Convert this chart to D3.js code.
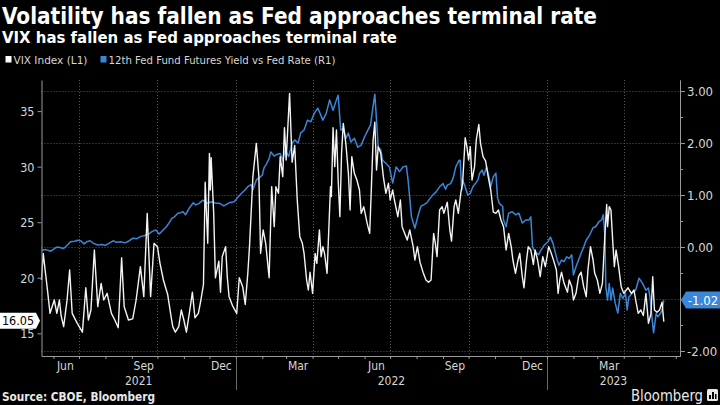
<!DOCTYPE html>
<html><head><meta charset="utf-8">
<script src="https://cdn.jsdelivr.net/npm/d3@7"></script>
<style>
html,body{margin:0;padding:0;background:#000;}
svg{display:block;}
</style></head><body>
<svg id="c" width="720" height="405"></svg>
<script>
const title = "Volatility has fallen as Fed approaches terminal rate";
const subtitle = "VIX has fallen as Fed approaches terminal rate";
const seriesNames = ["VIX Index (L1)", "12th Fed Fund Futures Yield vs Fed Rate (R1)"];
const sourceText = "Source: CBOE, Bloomberg";
const brand = "Bloomberg";
const leftTicks = [15, 20, 25, 30, 35];
const rightTicks = [-2, -1, 0, 1, 2, 3];
const rightMinor = [-1.5, -0.5, 0.5, 1.5, 2.5];
const dateDomain = ["2021-05-18", "2023-06-06"];

const vixDates = ["2021-05-18","2021-05-20","2021-05-25","2021-05-28","2021-06-02","2021-06-05","2021-06-08","2021-06-10","2021-06-13","2021-06-17","2021-06-20","2021-06-23","2021-06-29","2021-07-05","2021-07-09","2021-07-12","2021-07-15","2021-07-19","2021-07-23","2021-07-27","2021-07-30","2021-08-03","2021-08-08","2021-08-12","2021-08-16","2021-08-20","2021-08-23","2021-08-28","2021-09-02","2021-09-06","2021-09-11","2021-09-15","2021-09-19","2021-09-23","2021-09-27","2021-10-01","2021-10-04","2021-10-08","2021-10-13","2021-10-17","2021-10-19","2021-10-22","2021-10-26","2021-10-29","2021-11-01","2021-11-04","2021-11-08","2021-11-11","2021-11-14","2021-11-18","2021-11-21","2021-11-24","2021-11-26","2021-11-29","2021-12-01","2021-12-02","2021-12-03","2021-12-06","2021-12-08","2021-12-12","2021-12-14","2021-12-16","2021-12-20","2021-12-22","2021-12-24","2021-12-28",
"2022-01-02","2022-01-05","2022-01-09","2022-01-12","2022-01-15","2022-01-17","2022-01-21","2022-01-25","2022-01-28","2022-01-30","2022-02-02","2022-02-05","2022-02-09","2022-02-12","2022-02-15","2022-02-17","2022-02-20","2022-02-22","2022-02-25","2022-02-27","2022-03-01","2022-03-05","2022-03-08","2022-03-11","2022-03-14","2022-03-17","2022-03-20","2022-03-22","2022-03-25","2022-03-27","2022-03-29","2022-04-01","2022-04-04","2022-04-06","2022-04-09","2022-04-11","2022-04-13","2022-04-15","2022-04-18","2022-04-22","2022-04-23","2022-04-25","2022-04-27","2022-04-29","2022-05-01","2022-05-03","2022-05-05","2022-05-07","2022-05-10","2022-05-13","2022-05-15","2022-05-17","2022-05-20","2022-05-23","2022-05-26","2022-05-28","2022-05-31","2022-06-04","2022-06-07","2022-06-09","2022-06-11","2022-06-13","2022-06-15","2022-06-17","2022-06-20","2022-06-23","2022-06-26","2022-06-29","2022-07-01","2022-07-04","2022-07-06","2022-07-10","2022-07-13","2022-07-15","2022-07-18","2022-07-21","2022-07-24","2022-07-28","2022-07-30","2022-08-02","2022-08-05","2022-08-09","2022-08-12","2022-08-15","2022-08-18","2022-08-21","2022-08-23","2022-08-25","2022-08-28","2022-08-31","2022-09-02","2022-09-06","2022-09-09","2022-09-11","2022-09-14","2022-09-16","2022-09-19","2022-09-22","2022-09-24","2022-09-27","2022-09-29","2022-10-01","2022-10-03","2022-10-05","2022-10-08","2022-10-10","2022-10-13","2022-10-15","2022-10-18","2022-10-21","2022-10-24","2022-10-27","2022-10-30","2022-11-02","2022-11-05","2022-11-08","2022-11-11","2022-11-14","2022-11-17","2022-11-20","2022-11-22","2022-11-25","2022-11-28","2022-11-30","2022-12-03","2022-12-05","2022-12-08","2022-12-10","2022-12-13","2022-12-16","2022-12-18","2022-12-21","2022-12-24","2022-12-27","2022-12-30",
"2023-01-03","2023-01-06","2023-01-09","2023-01-12","2023-01-14","2023-01-16","2023-01-18","2023-01-21","2023-01-25","2023-01-27","2023-01-30","2023-02-01","2023-02-04","2023-02-07","2023-02-10","2023-02-13","2023-02-16","2023-02-18","2023-02-21","2023-02-24","2023-02-26","2023-03-01","2023-03-04","2023-03-07","2023-03-10","2023-03-12","2023-03-13","2023-03-15","2023-03-17","2023-03-19","2023-03-21","2023-03-23","2023-03-26","2023-03-29","2023-04-01","2023-04-04","2023-04-06","2023-04-10","2023-04-13","2023-04-15","2023-04-18","2023-04-21","2023-04-24","2023-04-27","2023-04-30","2023-05-03","2023-05-05","2023-05-07","2023-05-10","2023-05-13","2023-05-16","2023-05-17","2023-05-18"];
const vixValues = [19.8,22.2,18.9,16.8,18.0,16.8,18.0,16.6,15.6,18.0,20.7,16.8,15.9,15.1,19.1,16.2,17.1,22.5,17.4,19.5,18.0,18.6,16.8,16.2,15.5,21.8,17.4,16.2,16.3,18.0,21.0,18.3,25.8,18.3,23.1,22.8,21.3,19.8,18.5,16.5,15.6,15.1,15.6,17.1,16.2,15.1,17.1,18.7,16.4,16.8,18.0,19.4,28.6,23.1,31.2,27.9,30.8,25.8,20.0,21.5,18.7,21.9,22.8,20.0,18.3,17.5,
16.8,20.0,19.2,17.6,20.4,22.8,29.1,32.1,29.1,22.2,24.3,23.1,20.0,28.2,24.6,28.2,27.6,30.9,29.1,33.5,30.6,36.6,30.4,31.9,27.0,23.7,23.1,22.2,19.8,18.9,20.5,18.6,22.2,21.3,24.3,21.9,22.8,22.2,20.4,28.2,27.3,33.5,30.0,33.3,28.8,25.5,31.2,33.9,32.1,29.4,26.1,30.9,29.4,28.8,27.9,25.8,26.4,24.9,24.0,28.2,32.4,34.0,29.7,31.8,31.2,29.1,27.6,28.5,27.0,27.9,27.0,25.5,27.0,24.6,24.0,23.4,24.3,22.8,21.6,22.8,21.4,20.4,19.8,19.6,19.8,24.0,23.1,21.9,26.1,26.4,25.8,26.8,24.3,23.3,26.4,27.0,25.8,27.7,28.5,32.6,31.8,30.6,31.8,28.8,30.0,32.4,33.8,32.1,30.9,30.5,29.1,27.9,25.9,25.8,26.1,25.2,24.6,22.5,24.0,22.8,21.6,20.4,21.6,22.2,20.1,19.1,21.6,22.8,22.5,21.2,22.5,21.6,20.1,21.9,21.0,
22.8,22.2,21.5,20.7,18.6,19.8,20.5,19.5,18.7,19.8,19.2,18.0,18.6,20.1,20.5,19.2,18.3,20.7,22.8,21.6,20.4,19.8,18.6,19.5,24.0,26.6,24.6,26.4,26.1,23.4,21.0,22.5,21.0,19.2,18.6,18.9,19.1,18.6,18.9,18.0,16.8,17.1,16.6,18.6,15.9,16.8,20.1,17.1,16.9,17.1,17.8,16.9,16.05];

const fedDates = ["2021-05-18","2021-05-23","2021-05-29","2021-06-03","2021-06-06","2021-06-13","2021-06-18","2021-06-21","2021-06-26","2021-06-29","2021-07-03","2021-07-07","2021-07-10","2021-07-14","2021-07-18","2021-07-23","2021-07-28","2021-08-01","2021-08-06","2021-08-10","2021-08-14","2021-08-19","2021-08-24","2021-08-28","2021-09-02","2021-09-07","2021-09-11","2021-09-16","2021-09-21","2021-09-24","2021-09-29","2021-10-03","2021-10-06","2021-10-11","2021-10-14","2021-10-18","2021-10-21","2021-10-25","2021-10-28","2021-10-31","2021-11-03","2021-11-07","2021-11-12","2021-11-15","2021-11-19","2021-11-23","2021-11-28","2021-12-04","2021-12-09","2021-12-13","2021-12-18","2021-12-24","2021-12-30",
"2022-01-03","2022-01-08","2022-01-12","2022-01-15","2022-01-19","2022-01-21","2022-01-25","2022-01-28","2022-02-01","2022-02-03","2022-02-06","2022-02-09","2022-02-11","2022-02-15","2022-02-18","2022-02-22","2022-02-25","2022-02-28","2022-03-04","2022-03-08","2022-03-11","2022-03-15","2022-03-18","2022-03-22","2022-03-26","2022-03-30","2022-04-03","2022-04-07","2022-04-09","2022-04-13","2022-04-17","2022-04-21","2022-04-25","2022-04-29","2022-05-01","2022-05-04","2022-05-07","2022-05-10","2022-05-13","2022-05-16","2022-05-20","2022-05-24","2022-05-28","2022-06-01","2022-06-04","2022-06-08","2022-06-12","2022-06-13","2022-06-15","2022-06-17","2022-06-20","2022-06-22","2022-06-26","2022-06-30","2022-07-04","2022-07-08","2022-07-12","2022-07-16","2022-07-20","2022-07-22","2022-07-26","2022-07-30","2022-08-03","2022-08-06","2022-08-10","2022-08-13","2022-08-17","2022-08-20","2022-08-24","2022-08-28","2022-09-01","2022-09-04","2022-09-06","2022-09-10","2022-09-13","2022-09-16","2022-09-20","2022-09-21","2022-09-23","2022-09-24","2022-09-27","2022-09-30","2022-10-03","2022-10-06","2022-10-09","2022-10-12","2022-10-14","2022-10-17","2022-10-19","2022-10-22","2022-10-25","2022-10-27","2022-10-30","2022-11-02","2022-11-04","2022-11-06","2022-11-10","2022-11-11","2022-11-14","2022-11-17","2022-11-21","2022-11-25","2022-11-29","2022-12-03","2022-12-07","2022-12-11","2022-12-13","2022-12-15","2022-12-18","2022-12-22","2022-12-25","2022-12-29",
"2023-01-02","2023-01-05","2023-01-08","2023-01-10","2023-01-13","2023-01-15","2023-01-18","2023-01-21","2023-01-24","2023-01-27","2023-01-30","2023-02-01","2023-02-04","2023-02-07","2023-02-10","2023-02-13","2023-02-16","2023-02-20","2023-02-24","2023-02-27","2023-03-03","2023-03-06","2023-03-08","2023-03-10","2023-03-11","2023-03-13","2023-03-15","2023-03-17","2023-03-19","2023-03-22","2023-03-25","2023-03-28","2023-03-31","2023-04-03","2023-04-05","2023-04-07","2023-04-11","2023-04-15","2023-04-19","2023-04-23","2023-04-27","2023-04-30","2023-05-02","2023-05-04","2023-05-06","2023-05-09","2023-05-11","2023-05-14","2023-05-16","2023-05-18"];
const fedValues = [-0.06,-0.05,-0.08,-0.02,0.00,-0.03,0.05,0.10,0.11,0.13,0.12,0.06,0.10,0.12,0.07,0.04,0.05,0.03,0.08,0.12,0.09,0.10,0.08,0.11,0.17,0.16,0.20,0.22,0.25,0.29,0.33,0.25,0.30,0.38,0.45,0.55,0.58,0.65,0.66,0.68,0.62,0.74,0.85,0.81,0.84,0.90,0.84,0.87,0.84,0.84,0.79,0.85,0.87,
0.95,1.04,1.10,1.16,1.20,1.10,1.29,1.33,1.38,1.52,1.60,1.70,1.83,1.75,1.78,1.80,1.67,1.87,1.74,2.00,2.06,2.00,2.19,2.25,2.44,2.41,2.57,2.67,2.60,2.44,2.57,2.83,2.63,2.83,2.92,2.25,2.28,2.09,2.19,2.02,2.09,1.92,1.96,2.12,2.22,2.35,2.83,2.94,2.44,1.92,1.87,1.67,1.61,1.54,1.23,1.54,1.45,1.54,1.56,1.29,0.58,0.36,0.62,0.78,0.82,0.85,0.94,1.00,1.06,1.16,1.22,1.11,1.19,1.22,1.33,1.54,1.67,1.67,1.10,1.29,1.16,1.00,1.03,1.16,1.22,1.29,1.42,1.48,1.38,1.54,1.35,1.16,1.35,1.42,0.94,0.84,0.78,0.52,0.39,0.65,0.68,0.62,0.65,0.46,0.52,0.52,0.58,0.00,-0.09,-0.15,-0.06,0.04,
0.10,0.19,0.07,-0.06,-0.25,-0.35,-0.25,-0.28,-0.19,-0.22,-0.15,-0.54,-0.38,-0.25,-0.12,0.00,0.13,0.23,0.37,0.39,0.49,0.52,0.62,0.20,-0.77,-1.02,-0.70,-1.02,-0.79,-1.08,-1.27,-0.89,-0.99,-0.89,-1.21,-0.96,-0.89,-0.83,-0.60,-0.70,-0.83,-0.79,-0.99,-1.34,-1.65,-1.28,-1.34,-1.28,-1.21,-1.02];

const parse = d3.timeParse("%Y-%m-%d");
const vix = vixDates.map((d, i) => ({date: parse(d), value: vixValues[i]}));
const fed = fedDates.map((d, i) => ({date: parse(d), value: fedValues[i]}));

const W = 720, H = 405;
const m = {left: 41.5, right: 680, top: 80, bottom: 356};
const FONT = "'Liberation Sans Narrow','DejaVu Sans Condensed','Roboto',sans-serif";
const txtCol = "#d6d6d6";
const blue = "#3a86d8";

const svg = d3.select("#c");
svg.append("rect").attr("width", W).attr("height", H).attr("fill", "#000");

const x = d3.scaleTime().domain(dateDomain.map(parse)).range([m.left, m.right]);
const yL = d3.scaleLinear().domain([12.96, 37.8]).range([m.bottom, m.top]);
const yR = d3.scaleLinear().domain([-2.096, 3.212]).range([m.bottom, m.top]);

function fitText(sel, w) { sel.attr("textLength", w).attr("lengthAdjust", "spacingAndGlyphs"); return sel; }

// Title, subtitle
fitText(svg.append("text").attr("x", 2).attr("y", 24).attr("fill", "#fff")
  .attr("font-family", FONT).attr("font-weight", "bold").attr("font-size", 23).text(title), 595);
fitText(svg.append("text").attr("x", 2).attr("y", 43).attr("fill", "#fff")
  .attr("font-family", FONT).attr("font-weight", "bold").attr("font-size", 16).text(subtitle), 395);

// Legend
const lg = svg.append("g").attr("font-family", FONT).attr("font-size", 11).attr("fill", txtCol);
lg.append("rect").attr("x", 5.5).attr("y", 56).attr("width", 6).attr("height", 6.5).attr("fill", "#fff");
fitText(lg.append("text").attr("x", 13.5).attr("y", 64).text(seriesNames[0]), 74);
lg.append("rect").attr("x", 100.5).attr("y", 56).attr("width", 6).attr("height", 6.5).attr("fill", blue);
fitText(lg.append("text").attr("x", 108.5).attr("y", 64).text(seriesNames[1]), 227);

// Grid
const grid = svg.append("g").attr("stroke", "#585858").attr("stroke-width", 1).attr("stroke-dasharray", "1,2");
grid.selectAll("line.h").data(rightTicks).join("line").attr("class", "h")
  .attr("x1", m.left).attr("x2", m.right)
  .attr("y1", d => Math.round(yR(d)) + 0.5).attr("y2", d => Math.round(yR(d)) + 0.5);
const months = d3.timeMonths(x.domain()[0], x.domain()[1]);
const quarters = months.filter(d => d.getMonth() % 3 === 0);
grid.selectAll("line.v").data(quarters).join("line").attr("class", "v")
  .attr("x1", d => Math.round(x(d)) + 0.5).attr("x2", d => Math.round(x(d)) + 0.5)
  .attr("y1", m.top).attr("y2", m.bottom);

// Lines
const lineR = d3.line().x(d => x(d.date)).y(d => yR(d.value));
const lineL = d3.line().x(d => x(d.date)).y(d => yL(d.value));
svg.append("path").datum(fed).attr("d", lineR).attr("fill", "none")
  .attr("stroke", blue).attr("stroke-width", 1.5).attr("stroke-linejoin", "round");
svg.append("path").datum(vix).attr("d", lineL).attr("fill", "none")
  .attr("stroke", "#f4f4f4").attr("stroke-width", 1.4).attr("stroke-linejoin", "round");

// Axes
const axCol = "#9a9a9a";
function styleAxis(g, fs) {
  g.select(".domain").attr("stroke", axCol);
  g.selectAll(".tick line").attr("stroke", axCol);
  g.selectAll(".tick text").attr("fill", txtCol).attr("font-family", FONT).attr("font-size", fs || 13);
}
const gL = svg.append("g").attr("transform", `translate(${m.left},0)`)
  .call(d3.axisLeft(yL).tickValues(leftTicks).tickSize(4).tickSizeOuter(0).tickPadding(3).tickFormat(d3.format("d")));
styleAxis(gL, 12.5);
gL.selectAll(".tick text").attr("dy", "0.36em");
const gR = svg.append("g").attr("transform", `translate(${m.right},0)`)
  .call(d3.axisRight(yR).tickValues(rightTicks).tickSize(5).tickSizeOuter(0).tickPadding(2).tickFormat(d => d.toFixed(2)));
styleAxis(gR);
const gRm = svg.append("g").attr("transform", `translate(${m.right},0)`)
  .call(d3.axisRight(yR).tickValues(rightMinor).tickSize(3).tickSizeOuter(0).tickFormat(""));
styleAxis(gRm);
const gB = svg.append("g").attr("transform", `translate(0,${m.bottom})`)
  .call(d3.axisBottom(x).tickValues(months).tickSize(3).tickSizeOuter(0).tickFormat(""));
styleAxis(gB);

// Month labels (mid-month of Mar/Jun/Sep/Dec) within the plot
const labelMonths = months.filter(d => d.getMonth() % 3 === 2 && x(d3.timeDay.offset(d, 14)) < m.right - 15);
svg.append("g").selectAll("text").data(labelMonths).join("text")
  .attr("x", d => x(d3.timeDay.offset(d, 14))).attr("y", 370)
  .attr("text-anchor", "middle").attr("fill", txtCol).attr("font-family", FONT).attr("font-size", 12)
  .text(d3.timeFormat("%b"));

// Year labels and separators
const years = d3.timeYears(d3.timeYear.floor(x.domain()[0]), x.domain()[1]);
svg.append("g").selectAll("text").data(years).join("text")
  .attr("x", d => (Math.max(x(d), m.left) + Math.min(x(d3.timeYear.offset(d, 1)), m.right)) / 2)
  .attr("y", 385).attr("text-anchor", "middle").attr("fill", txtCol)
  .attr("font-family", FONT).attr("font-size", 12).text(d3.timeFormat("%Y"));
svg.append("g").selectAll("line").data(years.filter(d => x(d) > m.left)).join("line")
  .attr("x1", d => Math.round(x(d)) + 0.5).attr("x2", d => Math.round(x(d)) + 0.5)
  .attr("y1", m.bottom + 3).attr("y2", 390).attr("stroke", "#6a6a6a");

// Last-value labels
const lastV = vix[vix.length - 1], lastF = fed[fed.length - 1];
const yv = yL(lastV.value) - 1;
svg.append("path").attr("d", `M0,${yv - 8}H36L40,${yv}L36,${yv + 8}H0Z`).attr("fill", "#fff");
svg.append("text").attr("x", 18).attr("y", yv + 4).attr("text-anchor", "middle")
  .attr("font-family", FONT).attr("font-size", 12.5).attr("fill", "#000").text(lastV.value.toFixed(2));
const yf = yR(lastF.value);
svg.append("path").attr("d", `M681,${yf}L686,${yf - 8.5}H720V${yf + 8.5}H686Z`).attr("fill", blue);
svg.append("text").attr("x", 703).attr("y", yf + 4.5).attr("text-anchor", "middle")
  .attr("font-family", FONT).attr("font-size", 13).attr("fill", "#fff").text(lastF.value.toFixed(2));

// Footer
fitText(svg.append("text").attr("x", 2).attr("y", 401).attr("fill", "#e8e8e8")
  .attr("font-family", FONT).attr("font-weight", "bold").attr("font-size", 12).text(sourceText), 153);
fitText(svg.append("text").attr("x", 631).attr("y", 401).attr("fill", "#e8e8e8")
  .attr("font-family", FONT).attr("font-size", 15).text(brand), 72);
const logo = svg.append("g").attr("transform", "translate(707,389)");
logo.append("rect").attr("width", 11).attr("height", 12).attr("rx", 1.5).attr("fill", "#e8e8e8");
logo.append("rect").attr("x", 2).attr("y", 6).attr("width", 2).attr("height", 4).attr("fill", "#000");
logo.append("rect").attr("x", 5).attr("y", 3).attr("width", 2).attr("height", 7).attr("fill", "#000");
logo.append("rect").attr("x", 8).attr("y", 5).attr("width", 1.5).attr("height", 5).attr("fill", "#000");
</script>
</body></html>
